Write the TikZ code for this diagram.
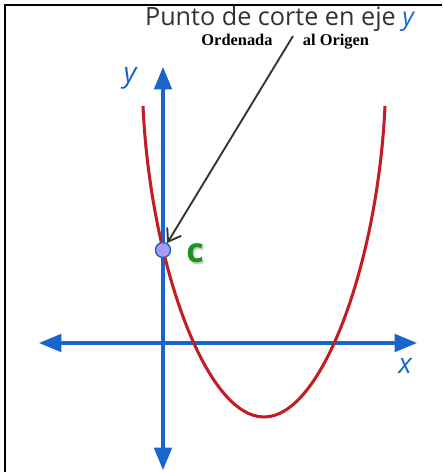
\documentclass[tikz,border=0pt]{standalone}
\usepackage{fontspec}
\setsansfont{Open Sans}
\newfontfamily\serifbf{Liberation Serif}
\usetikzlibrary{arrows.meta}
\definecolor{axisblue}{RGB}{24,102,204}
\definecolor{curvered}{RGB}{196,28,36}
\definecolor{titlegray}{RGB}{50,50,50}
\definecolor{dotfill}{RGB}{168,156,240}
\definecolor{cgreen}{RGB}{22,150,30}
\tikzset{
  axis/.style={axisblue,line width=2.6pt,
    {Triangle[length=19pt,width=15pt]}-{Triangle[length=19pt,width=15pt]}},
  axlabel/.style={text=axisblue,font=\sffamily\itshape\fontsize{24}{24}\selectfont},
  boldlabel/.style={anchor=base,inner sep=0pt,font=\serifbf\bfseries\fontsize{14}{14}\selectfont},
  dot/.style={circle,draw=axisblue,fill=dotfill,line width=1.2pt,minimum size=12.8pt,inner sep=0pt},
  clabel/.style={font=\sffamily\bfseries\fontsize{29}{29}\selectfont},
  pointer/.style={draw=black!80,line width=1.6pt,-{Straight Barb[length=10pt,width=14pt]}}
}
\begin{document}
\begin{tikzpicture}[x=0.03cm,y=-0.03cm]
  \useasboundingbox (0,0) rectangle (442,472);
  % frame
  \draw[line width=1.7pt] (442,5) -- (5,5) -- (5,472);
  % axes
  \coordinate (XL) at (39,343); \coordinate (XR) at (417,343);
  \coordinate (YT) at (163,67); \coordinate (YB) at (163,470);
  \draw[axis] (XL) -- (XR);
  \draw[axis] (YB) -- (YT);
  \node[axlabel] (ylab) at (130,78) {y};
  \node[axlabel] (xlab) at (405,366) {x};
  % parabola
  \draw[curvered,line width=2.6pt] (143,106) .. controls (150,260) and (205,417) .. (264,417)
    .. controls (323,417) and (378,260) .. (385,106);
  % intercept
  \node[dot] (pc) at (163,250) {};
  \node[clabel,text=black!20] (cshadow) at (196.5,255) {c};
  \node[clabel,text=cgreen] (clab) at (195,253.5) {c};
  % labels
  \node[anchor=base,text=titlegray,font=\sffamily\fontsize{21.5}{21.5}\selectfont] (title) at (279.5,25)
    {Punto de corte en eje {\color{axisblue}\itshape y}};
  \node[boldlabel] (ord) at (237,45) {Ordenada};
  \node[boldlabel] (orig) at (336,45) {al Origen};
  \coordinate (tail) at (293,36);
  \draw[pointer] (tail) -- (pc);
\end{tikzpicture}
\end{document}
